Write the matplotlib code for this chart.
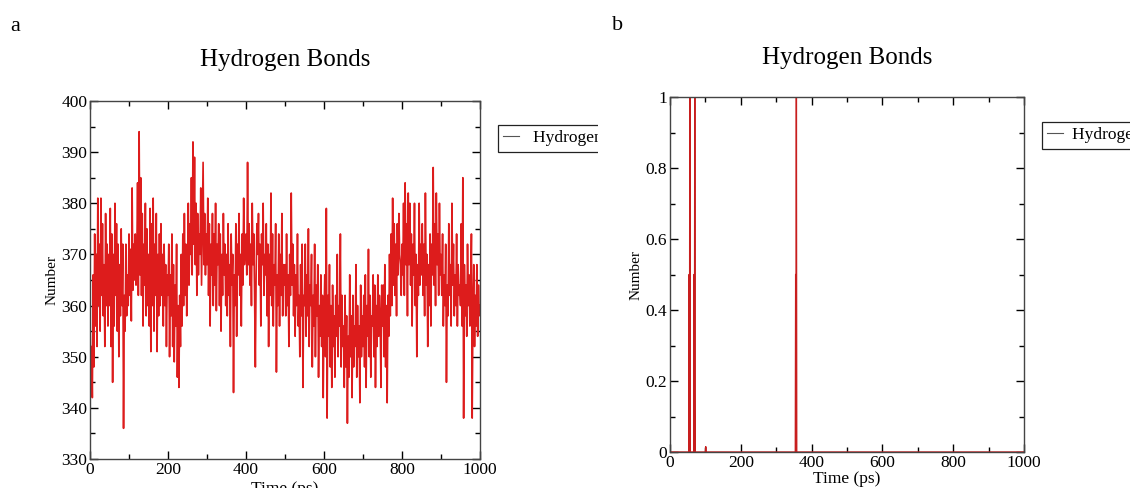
import numpy as np
import matplotlib
matplotlib.use('Agg')
from matplotlib import pyplot as plt
from matplotlib.patches import Rectangle
from matplotlib.ticker import MultipleLocator

plt.rcParams['font.family'] = ['Liberation Serif', 'DejaVu Serif']

## panel a : number of H-bonds, one value every 2 ps
hb_a_value = [
    358, 344, 352, 342, 366, 348, 374, 356, 370, 352, 381, 360, 372, 355, 381, 362, 376, 358, 368, 352, 378, 360, 372, 356, 370,
    360, 379, 352, 374, 345, 370, 356, 380, 362, 376, 355, 372, 350, 368, 358, 375, 360, 372, 336, 362, 355, 372, 358, 366, 360,
    374, 362, 371, 357, 383, 363, 372, 365, 374, 364, 370, 384, 362, 394, 366, 385, 362, 378, 356, 372, 364, 380, 358, 375, 360,
    370, 356, 379, 351, 376, 360, 381, 355, 372, 362, 378, 351, 370, 358, 374, 360, 376, 362, 370, 356, 372, 360, 368, 352, 366,
    362, 372, 350, 366, 358, 374, 352, 368, 349, 364, 356, 372, 346, 360, 344, 362, 352, 370, 356, 374, 360, 378, 362, 372, 358,
    366, 380, 364, 376, 370, 385, 366, 392, 372, 389, 368, 380, 362, 378, 366, 374, 370, 383, 364, 376, 388, 368, 378, 366, 374,
    368, 381, 362, 376, 356, 372, 366, 378, 360, 374, 364, 380, 359, 372, 368, 376, 360, 374, 355, 370, 362, 378, 366, 372, 360,
    370, 358, 376, 362, 368, 352, 374, 364, 370, 343, 366, 360, 376, 354, 372, 366, 378, 362, 370, 356, 374, 364, 381, 368, 372,
    374, 366, 388, 368, 376, 364, 372, 360, 380, 368, 374, 362, 348, 366, 376, 370, 378, 364, 372, 356, 374, 368, 380, 362, 370,
    366, 376, 358, 372, 352, 370, 362, 382, 360, 374, 356, 368, 364, 376, 347, 366, 360, 374, 356, 370, 362, 378, 358, 368, 364,
    368, 358, 374, 360, 366, 352, 370, 362, 382, 364, 372, 358, 368, 354, 366, 360, 374, 356, 362, 350, 368, 358, 372, 344, 362,
    360, 372, 354, 366, 358, 375, 352, 364, 360, 370, 348, 362, 356, 372, 350, 364, 358, 368, 346, 360, 354, 366, 352, 362, 342,
    358, 366, 350, 379, 338, 362, 354, 368, 348, 360, 344, 364, 352, 358, 346, 362, 354, 370, 350, 360, 356, 374, 348, 362, 352,
    356, 344, 362, 348, 358, 337, 354, 346, 366, 350, 358, 342, 362, 348, 356, 352, 368, 346, 360, 350, 356, 341, 364, 350, 358,
    352, 362, 348, 366, 344, 360, 354, 371, 350, 362, 346, 358, 356, 366, 350, 364, 344, 360, 352, 366, 354, 362, 358, 344, 364,
    356, 364, 350, 368, 348, 360, 341, 362, 354, 370, 358, 374, 360, 381, 364, 376, 362, 372, 358, 376, 366, 378, 370, 368, 362,
    372, 366, 380, 362, 384, 368, 376, 358, 382, 368, 380, 364, 374, 356, 372, 366, 380, 360, 370, 350, 368, 362, 380, 364, 372,
    366, 376, 362, 372, 358, 382, 364, 370, 352, 368, 360, 374, 356, 372, 366, 387, 364, 376, 360, 382, 368, 374, 362, 380, 366,
    370, 362, 374, 356, 366, 360, 372, 345, 364, 358, 376, 362, 368, 356, 380, 364, 372, 358, 366, 360, 374, 356, 368, 362, 364,
    360, 376, 356, 385, 338, 368, 358, 364, 354, 372, 360, 366, 356, 362, 374, 338, 360, 368, 352, 362, 356, 368, 354, 364, 358,
    360]
hb_a_time = np.arange(len(hb_a_value)) * 2

## panel b : almost always zero, a few short events
hb_b_time = [0, 53, 54, 55, 56, 57, 67, 68, 69, 70, 71, 100, 101, 102, 354, 355, 356, 357, 358, 1000]
hb_b_value = [0, 0, 0.5, 0, 1, 0, 0, 0.5, 0, 1, 0, 0, 0.015, 0, 0, 0.5, 0, 1, 0, 0]

W, H = 1130, 488
fig = plt.figure(figsize=(W/100, H/100), dpi=100)

def style(ax, major_x, minor_x, major_y, minor_y):
    ax.xaxis.set_major_locator(MultipleLocator(major_x))
    ax.xaxis.set_minor_locator(MultipleLocator(minor_x))
    ax.yaxis.set_major_locator(MultipleLocator(major_y))
    ax.yaxis.set_minor_locator(MultipleLocator(minor_y))
    ax.tick_params(which='both', direction='in', top=True, right=True, labelsize=12.5)
    ax.tick_params(which='major', length=6, width=1, pad=2)
    ax.tick_params(which='minor', length=3.5, width=1)
    for s in ax.spines.values():
        s.set_color('#444444')
        s.set_linewidth(1)

ax_a = fig.add_axes([90/W, 1-459/H, 390/W, 358/H])
ax_a.plot(hb_a_time, hb_a_value, color='#dd1c1c', lw=1.2, label='Hydrogen bonds')
ax_a.set_xlim(0, 1000)
ax_a.set_ylim(330, 400)
style(ax_a, 200, 100, 10, 5)
ax_a.set_title('Hydrogen Bonds', fontsize=18, pad=25)
ax_a.set_xlabel('Time (ps)', fontsize=12.5, labelpad=2)
ax_a.set_ylabel('Number', fontsize=11, labelpad=2)

ax_b = fig.add_axes([670/W, 1-452/H, 354/W, 355/H])
ax_b.plot(hb_b_time, hb_b_value, color='#c81e1e', lw=1.0, label='Hydrogen bonds')
ax_b.set_xlim(0, 1000)
ax_b.set_ylim(0, 1)
style(ax_b, 200, 100, 0.2, 0.1)
ax_b.set_yticks([0, 0.2, 0.4, 0.6, 0.8, 1])
ax_b.set_yticklabels(['0', '0.2', '0.4', '0.6', '0.8', '1'])
ax_b.set_title('Hydrogen Bonds', fontsize=18, pad=24)
ax_b.set_xlabel('Time (ps)', fontsize=12.5, labelpad=0)
ax_b.set_ylabel('Number', fontsize=11, labelpad=2)

legs = []
for ax, x0, y0, tpad in [(ax_a, 498, 125, 0.8), (ax_b, 1042, 122, 0.5)]:
    leg = ax.legend(loc='upper left', bbox_to_anchor=(x0/W, 1-y0/H), bbox_transform=fig.transFigure,
                    borderaxespad=0, fancybox=False, edgecolor='#222222', framealpha=1,
                    fontsize=12.5, handlelength=0.9, handletextpad=tpad, borderpad=0.3)
    leg.get_frame().set_linewidth(0.9)
    for line in leg.get_lines():
        line.set_linewidth(0.8)
        line.set_color('#555555')
    legs.append(leg)

# panel a was cropped at its right side, the legend box is cut there
clip = Rectangle((0, 0), 598/W, 1, transform=fig.transFigure, facecolor='none', edgecolor='none')
fig.add_artist(clip)
for a in legs[0].findobj():
    a.set_clip_path(clip)

fig.text(15/W, 1-31/H, 'a', fontsize=16, va='baseline', ha='center')
fig.text(618/W, 1-30/H, 'b', fontsize=16, va='baseline', ha='center')

plt.savefig('out.png', dpi=100)
